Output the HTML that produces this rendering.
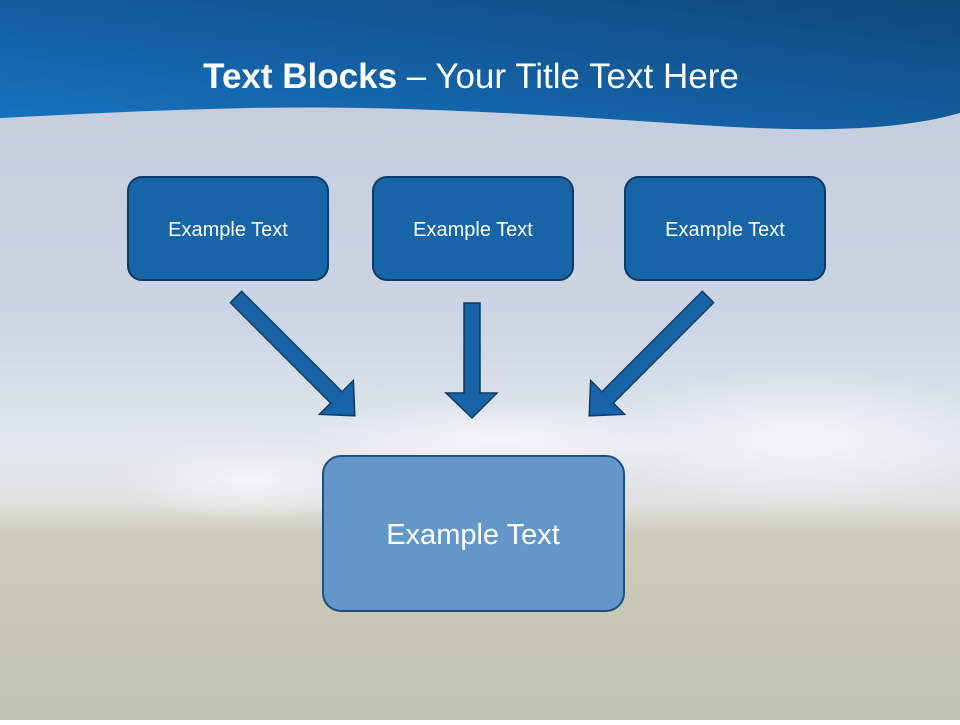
<!DOCTYPE html>
<html><head><style>
body{margin:0;width:960px;height:720px;overflow:hidden;font-family:"Liberation Sans",sans-serif}
</style></head><body>
<svg width="960" height="720" viewBox="0 0 960 720" xmlns="http://www.w3.org/2000/svg">
<defs>
<linearGradient id="bg" x1="0" y1="0" x2="0" y2="1">
<stop offset="0" stop-color="#c3cbdb"/>
<stop offset="0.45" stop-color="#cbd5e4"/>
<stop offset="0.62" stop-color="#e3e8ef"/>
<stop offset="0.70" stop-color="#dfe2df"/>
<stop offset="0.74" stop-color="#cdccbb"/>
<stop offset="0.85" stop-color="#c8c6b4"/>
<stop offset="1" stop-color="#c0c6b3"/>
</linearGradient>
<linearGradient id="hd" x1="0" y1="1" x2="1" y2="0">
<stop offset="0" stop-color="#1773c2"/>
<stop offset="1" stop-color="#0f4779"/>
</linearGradient>
<radialGradient id="cl" cx="0.5" cy="0.5" r="0.5">
<stop offset="0" stop-color="#f3f5f8"/><stop offset="1" stop-color="#f3f5f8" stop-opacity="0"/>
</radialGradient>
</defs>
<rect width="960" height="720" fill="url(#bg)"/>
<ellipse cx="250" cy="480" rx="130" ry="40" fill="url(#cl)"/>
<ellipse cx="800" cy="440" rx="200" ry="70" fill="url(#cl)"/>
<ellipse cx="500" cy="440" rx="200" ry="40" fill="url(#cl)"/>
<path d="M0,0 H960 V113 C900,130 820,133 700,125 C550,115 400,105 250,108 C150,110 60,115 0,118 Z" fill="url(#hd)"/>
<text x="471" y="88" text-anchor="middle" fill="#fff" font-size="35"><tspan font-weight="bold">Text Blocks</tspan> – Your Title Text Here</text>
<g fill="#1764a7" stroke="#0e3a66" stroke-width="2">
<rect x="128" y="177" width="200" height="103" rx="14"/>
<rect x="373" y="177" width="200" height="103" rx="14"/>
<rect x="625" y="177" width="200" height="103" rx="14"/>
</g>
<g fill="#fff" font-size="20" text-anchor="middle">
<text x="228" y="236">Example Text</text>
<text x="473" y="236">Example Text</text>
<text x="725" y="236">Example Text</text>
</g>
<g fill="#1764a7" stroke="#0e3a66" stroke-width="1.5">
<polygon points="0,-8 142,-8 142,-24 168,0 142,24 142,8 0,8" transform="translate(236,297) rotate(45)"/>
<polygon points="464,303 480,303 480,393 497,393 472,418 446,393 464,393"/>
<polygon points="0,-8 142,-8 142,-24 168,0 142,24 142,8 0,8" transform="translate(708,297) rotate(135)"/>
</g>
<rect x="323" y="456" width="301" height="155" rx="18" fill="#6497c9" stroke="#1e4f7e" stroke-width="2"/>
<text x="473" y="544" text-anchor="middle" fill="#fff" font-size="29">Example Text</text>
</svg>
</body></html>
